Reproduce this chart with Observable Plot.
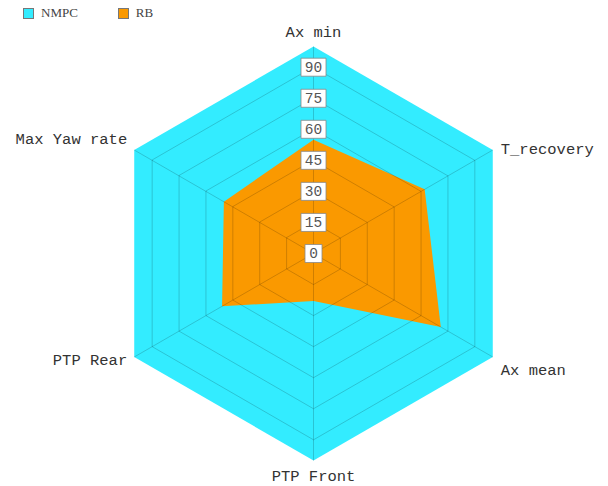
<!DOCTYPE html>
<html>
<head>
<meta charset="utf-8">
<script src="https://cdn.jsdelivr.net/npm/d3@7"></script>
<script src="https://cdn.jsdelivr.net/npm/@observablehq/plot@0.6"></script>
<style>
  html, body { margin: 0; padding: 0; background: #fff; }
  #wrap { position: relative; width: 608px; height: 486px; }
  #legend { position: absolute; left: 23px; top: 5px; font: 13px "Liberation Serif", serif; color: #444; display: flex; gap: 0; }
  .item { display: flex; align-items: center; margin-right: 40px; }
  .sw { width: 11px; height: 11px; border: 1px solid #777; box-sizing: border-box; margin-right: 7px; }
  #chart svg { display: block; }
</style>
</head>
<body>
<div id="wrap">
  <div id="chart"></div>
  <div id="legend"></div>
</div>
<script>
// ---- data ----
const axes = ["Ax min", "T_recovery", "Ax mean", "PTP Front", "PTP Rear", "Max Yaw rate"];
const seriesNames = ["NMPC", "RB"];
const nmpcValues = [100, 100, 100, 100, 100, 100];
const rbValues = [55, 62, 71, 23, 51, 50];
const tickValues = [0, 15, 30, 45, 60, 75, 90];
const ringValues = [15, 30, 45, 60, 75, 90];
const axisMax = 100;

// ---- derived ----
const colors = { NMPC: "#33ecff", RB: "#fa9900" };
const n = axes.length;
const ang = i => (i * 2 * Math.PI) / n;
const px = (v, i) => v * Math.sin(ang(i));
const py = (v, i) => v * Math.cos(ang(i));

const polyOf = vals => vals.map((v, i) => ({ x: px(v, i), y: py(v, i) }));
const rings = [];
ringValues.forEach(r => axes.forEach((a, i) => rings.push({ r, x: px(r, i), y: py(r, i) })));
const spokes = axes.map((a, i) => ({ x2: px(axisMax, i), y2: py(axisMax, i) }));
const labels = axes.map((a, i) => {
  const s = Math.sin(ang(i)), c = Math.cos(ang(i));
  let anchor = Math.abs(s) < 0.01 ? "middle" : (s > 0 ? "start" : "end");
  let dx = Math.abs(s) < 0.01 ? 0 : (s > 0 ? 8 : -7);
  let dy;
  if (Math.abs(s) < 0.01) dy = c > 0 ? -14 : 16;
  else if (s > 0) dy = c > 0 ? -1 : 13;
  else dy = c > 0 ? -11 : 3;
  return { label: a, x: px(axisMax, i), y: py(axisMax, i), anchor, dx, dy };
});

// scale: px per unit
const k = 2.07;
const cx = 313, cy = 253, W = 608, H = 486;

function boxSymbol(w, h) {
  return { draw(ctx) { ctx.rect(-w / 2, -h / 2, w, h); } };
}
const tick2 = tickValues.filter(t => String(t).length > 1);
const tick1 = tickValues.filter(t => String(t).length === 1);
const mono = "Liberation Mono, monospace";

const chart = Plot.plot({
  width: W, height: H, margin: 0,
  x: { domain: [-cx / k, (W - cx) / k], axis: null },
  y: { domain: [-(H - cy) / k, cy / k], axis: null },
  style: { background: "transparent" },
  marks: [
    Plot.line(polyOf(nmpcValues), { x: "x", y: "y", fill: colors.NMPC, stroke: "none", curve: "linear-closed" }),
    Plot.line(polyOf(rbValues), { x: "x", y: "y", fill: colors.RB, stroke: "none", curve: "linear-closed" }),
    Plot.line(rings, { x: "x", y: "y", z: "r", stroke: "#000", strokeOpacity: 0.22, strokeWidth: 0.8, curve: "linear-closed" }),
    Plot.link(spokes, { x1: 0, y1: 0, x2: "x2", y2: "y2", stroke: "#000", strokeOpacity: 0.22, strokeWidth: 0.8 }),
    Plot.dot(tick2, { x: 0, y: d => d, symbol: boxSymbol(25, 18), fill: "#fff", stroke: "#888", strokeWidth: 0.8 }),
    Plot.dot(tick1, { x: 0, y: d => d, symbol: boxSymbol(17, 18), fill: "#fff", stroke: "#888", strokeWidth: 0.8 }),
    Plot.text(tickValues, { x: 0, y: d => d, text: d => String(d), fill: "#555", fontSize: 14.5, fontFamily: mono }),
    ...labels.map(l => Plot.text([l], { x: "x", y: "y", text: "label", textAnchor: l.anchor, dx: l.dx, dy: l.dy, fill: "#333", fontSize: 15.5, fontFamily: mono }))
  ]
});
document.getElementById("chart").append(chart);

// legend
const lg = document.getElementById("legend");
seriesNames.forEach(s => {
  const it = document.createElement("div");
  it.className = "item";
  const sw = document.createElement("div");
  sw.className = "sw"; sw.style.background = colors[s];
  const t = document.createElement("span"); t.textContent = s;
  it.append(sw, t); lg.append(it);
});
</script>
</body>
</html>
